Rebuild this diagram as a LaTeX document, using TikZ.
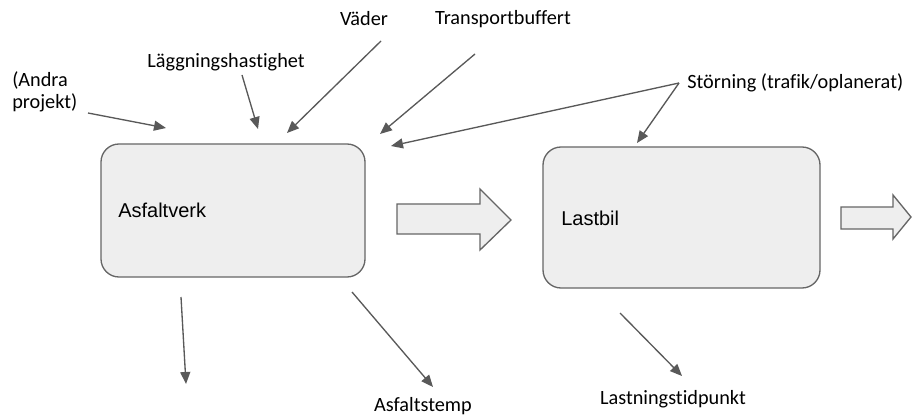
\documentclass[tikz,border=0pt]{standalone}
\usepackage{fontspec}
\setmainfont{Carlito}[Ligatures={NoCommon}]
\newfontfamily\boxfont{Liberation Sans}
\usetikzlibrary{arrows.meta}
\definecolor{boxfill}{HTML}{EEEEEE}
\definecolor{edge}{HTML}{666666}
\definecolor{link}{HTML}{595959}
\tikzset{
  procbox/.style={draw=edge, fill=boxfill, line width=1pt, rounded corners=13.5pt},
  blockarrow/.style={draw=edge, fill=boxfill, line width=1pt, line join=miter},
  influence/.style={draw=link, line width=1pt, -{Triangle[length=9pt,width=7.5pt]}},
  lbl/.style={font=\fontsize{15.2pt}{17pt}\selectfont, inner sep=0pt},
  boxlbl/.style={font=\boxfont\fontsize{15pt}{18pt}\selectfont, inner sep=0pt, anchor=base west}
}
\begin{document}
\begin{tikzpicture}[x=0.75pt, y=-0.75pt]
\useasboundingbox (0,0) rectangle (912,420);

% process boxes
\draw[procbox] (101,144) rectangle (365,277);
\node[boxlbl] (plantlbl) at (118,218) {Asfaltverk};
\draw[procbox] (543,147) rectangle (820,288);
\node[boxlbl] (trucklbl) at (561,225) {Lastbil};

% block arrows between the stages
\draw[blockarrow] (397,204) -- (480,204) -- (480,189) -- (511,220) -- (480,250)
  -- (480,234) -- (397,234) -- cycle;
\draw[blockarrow] (841,207) -- (893,207) -- (893,195) -- (911,217) -- (893,239)
  -- (893,229) -- (841,229) -- cycle;

% labels
\node[lbl, align=left, anchor=north west] (andra) at (12,71) {(Andra\\projekt)};
\node[lbl] (lagg) at (226,62) {Läggningshastighet};
\node[lbl] (vader) at (364,19) {Väder};
\node[lbl] (buffer) at (503,19) {Transportbuffert};
\node[lbl, anchor=west] (storning) at (687,83) {Störning (trafik/oplanerat)};
\node[lbl] (temp) at (423,406) {Asfaltstemp};
\node[lbl] (lastning) at (673,399) {Lastningstidpunkt};

% arrow end points
\coordinate (a1) at (88,113);   \coordinate (a2) at (166,128);
\coordinate (l1) at (242,75);   \coordinate (l2) at (258,129);
\coordinate (v1) at (381,41);   \coordinate (v2) at (287,133);
\coordinate (t1) at (475,54);   \coordinate (t2) at (380,134);
\coordinate (s0) at (679,83);
\coordinate (s1) at (391,146);  \coordinate (s2) at (637,143);
\coordinate (d1) at (181,297);  \coordinate (d2) at (186,384);
\coordinate (f1) at (352,292);  \coordinate (f2) at (433,387);
\coordinate (n1) at (620,313);  \coordinate (n2) at (682,376);

% influence arrows
\draw[influence] (a1) -- (a2);
\draw[influence] (l1) -- (l2);
\draw[influence] (v1) -- (v2);
\draw[influence] (t1) -- (t2);
\draw[influence] (s0) -- (s1);
\draw[influence] (s0) -- (s2);
\draw[influence] (d1) -- (d2);
\draw[influence] (f1) -- (f2);
\draw[influence] (n1) -- (n2);
\end{tikzpicture}
\end{document}
